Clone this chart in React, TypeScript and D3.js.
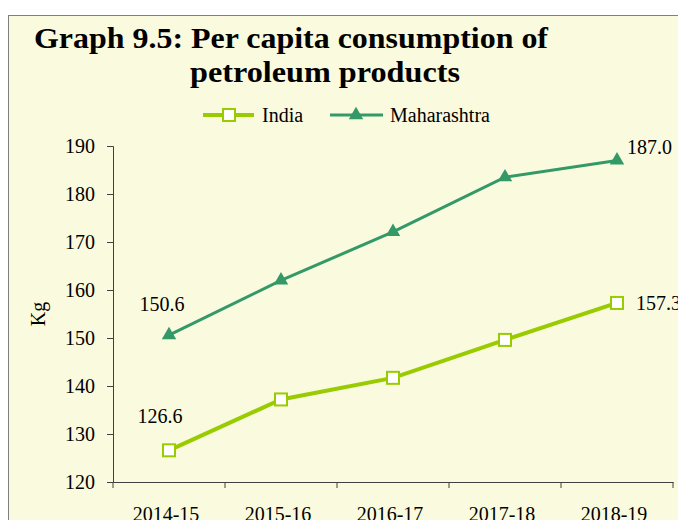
import * as d3 from 'd3'
import { useEffect, useRef } from 'react'

const years = ['2014-15', '2015-16', '2016-17', '2017-18', '2018-19']
const india = [126.6, 137.2, 141.7, 149.6, 157.3]
const maharashtra = [150.6, 162.0, 172.1, 183.5, 187.0]
const yTicks = [120, 130, 140, 150, 160, 170, 180, 190]

export default function App() {
  const svgRef = useRef<SVGSVGElement>(null)

  useEffect(() => {
    if (!svgRef.current) return
    document.body.style.margin = '0'
    d3.select(svgRef.current).selectAll('*').remove()

    const width = 678
    const height = 520
    const font = '"Liberation Serif", "Times New Roman", serif'
    const svg = d3
      .select(svgRef.current)
      .attr('width', width)
      .attr('height', height)
      .style('font-family', font)

    svg.append('rect').attr('width', width).attr('height', height).attr('fill', '#fff')
    // frame
    svg
      .append('rect')
      .attr('x', 8.5)
      .attr('y', 15.5)
      .attr('width', 700)
      .attr('height', 540)
      .attr('fill', '#FAFADF')
      .attr('stroke', '#7f7f7f')
      .attr('stroke-width', 1)

    // Title
    svg
      .append('text')
      .attr('x', 34)
      .attr('y', 48)
      .attr('textLength', 514)
      .attr('lengthAdjust', 'spacingAndGlyphs')
      .style('font-size', '30px')
      .style('font-weight', 'bold')
      .text('Graph 9.5: Per capita consumption of')
    svg
      .append('text')
      .attr('x', 190)
      .attr('y', 82)
      .attr('textLength', 270)
      .attr('lengthAdjust', 'spacingAndGlyphs')
      .style('font-size', '30px')
      .style('font-weight', 'bold')
      .text('petroleum products')

    const xScale = d3.scaleBand().domain(years).range([113, 673])
    const yScale = d3.scaleLinear().domain([120, 190]).range([482, 146])
    const cx = (d: string) => xScale(d)! + xScale.bandwidth() / 2

    // Y axis
    const yAxis = svg
      .append('g')
      .attr('transform', 'translate(113,0)')
      .call(d3.axisLeft(yScale).tickValues(yTicks).tickSize(6).tickPadding(12).tickFormat(d3.format('d')))
    yAxis.select('.domain').attr('stroke', '#404040')
    yAxis.selectAll('line').attr('stroke', '#404040')
    yAxis.selectAll('text').style('font-size', '20px').style('font-family', font).attr('fill', '#000')

    // X axis
    const xAxis = svg
      .append('g')
      .attr('transform', 'translate(0,482)')
      .call(d3.axisBottom(xScale).tickSize(0).tickPadding(25))
    xAxis.select('.domain').attr('stroke', '#404040')
    xAxis
      .selectAll('text')
      .attr('dx', -3)
      .style('font-size', '20px')
      .style('font-family', font)
      .attr('fill', '#000')
    const bounds = [...years.map(y => xScale(y)!), xScale.range()[1]]
    xAxis
      .selectAll('.bound')
      .data(bounds)
      .enter()
      .append('line')
      .attr('x1', d => d)
      .attr('x2', d => d)
      .attr('y1', 0)
      .attr('y2', 6)
      .attr('stroke', '#404040')

    // Y label
    svg
      .append('text')
      .attr('transform', 'translate(45,314) rotate(-90)')
      .attr('text-anchor', 'middle')
      .style('font-size', '20px')
      .text('Kg')

    const line = d3
      .line<number>()
      .x((_, i) => cx(years[i]))
      .y(d => yScale(d))

    // Maharashtra
    svg
      .append('path')
      .datum(maharashtra)
      .attr('d', line)
      .attr('fill', 'none')
      .attr('stroke', '#339966')
      .attr('stroke-width', 3)
    const tri = d3.symbol().type(d3.symbolTriangle).size(90)
    svg
      .selectAll('.tri')
      .data(maharashtra)
      .enter()
      .append('path')
      .attr('d', tri)
      .attr('transform', (d, i) => `translate(${cx(years[i])},${yScale(d)})`)
      .attr('fill', '#339966')

    // India
    svg
      .append('path')
      .datum(india)
      .attr('d', line)
      .attr('fill', 'none')
      .attr('stroke', '#99CC00')
      .attr('stroke-width', 4)
    svg
      .selectAll('.sq')
      .data(india)
      .enter()
      .append('rect')
      .attr('x', (d, i) => cx(years[i]) - 6)
      .attr('y', d => yScale(d) - 6)
      .attr('width', 12)
      .attr('height', 12)
      .attr('fill', '#fff')
      .attr('stroke', '#99CC00')
      .attr('stroke-width', 2)

    // Value labels
    const labels = [
      { v: maharashtra[0], i: 0, dx: -7, dy: -24, anchor: 'middle' },
      { v: india[0], i: 0, dx: -9, dy: -27, anchor: 'middle' },
      { v: maharashtra[4], i: 4, dx: 10, dy: -6, anchor: 'start' },
      { v: india[4], i: 4, dx: 19, dy: 7, anchor: 'start' },
    ]
    labels.forEach(l => {
      svg
        .append('text')
        .attr('x', cx(years[l.i]) + l.dx)
        .attr('y', yScale(l.v) + l.dy)
        .attr('text-anchor', l.anchor)
        .style('font-size', '20px')
        .text(l.v.toFixed(1))
    })

    // Legend
    const lg = svg.append('g').attr('transform', 'translate(0,115)')
    lg.append('line').attr('x1', 203).attr('x2', 254).attr('stroke', '#99CC00').attr('stroke-width', 4)
    lg.append('rect')
      .attr('x', 223)
      .attr('y', -6)
      .attr('width', 12)
      .attr('height', 12)
      .attr('fill', '#fff')
      .attr('stroke', '#99CC00')
      .attr('stroke-width', 2)
    lg.append('text').attr('x', 262).attr('y', 7).style('font-size', '20px').text('India')
    lg.append('line').attr('x1', 330).attr('x2', 383).attr('stroke', '#339966').attr('stroke-width', 3)
    lg.append('path').attr('d', tri).attr('transform', 'translate(356,0)').attr('fill', '#339966')
    lg.append('text').attr('x', 390).attr('y', 7).style('font-size', '20px').text('Maharashtra')
  }, [])

  return <svg ref={svgRef} style={{ display: 'block' }}></svg>
}
